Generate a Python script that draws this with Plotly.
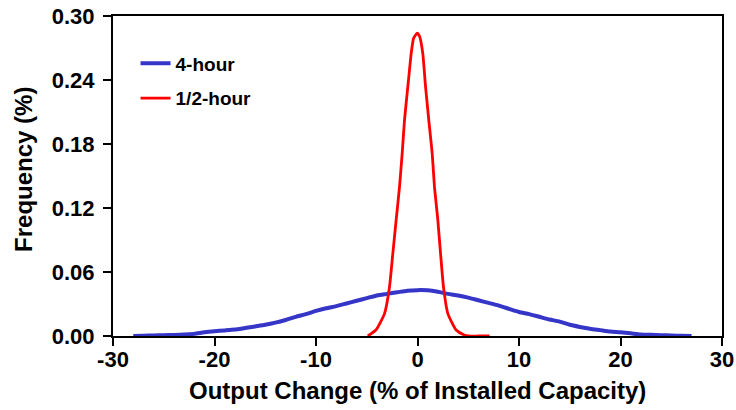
import plotly.graph_objects as go

# 4-hour distribution
blue_x = [-28, -27, -26, -25, -24, -23, -22, -21, -20, -19, -18, -17, -16, -15, -14, -13, -12, -11, -10,
          -9, -8, -7, -6, -5, -4, -3, -2, -1, 0, 1, 2, 3, 4, 5, 6, 7, 8, 9, 10, 11, 12, 13, 14,
          15, 16, 17, 18, 19, 20, 21, 22, 23, 24, 25, 26, 27]
blue_y = [0.0, 0.0003, 0.0005, 0.0008, 0.001, 0.0013, 0.002, 0.0035, 0.0045, 0.0052, 0.006, 0.0075,
          0.009, 0.0105, 0.0125, 0.015, 0.018, 0.0205, 0.0235, 0.026, 0.028, 0.0305, 0.033, 0.0355,
          0.038, 0.0395, 0.041, 0.0425, 0.043, 0.0428, 0.0415, 0.0395, 0.038, 0.036, 0.0335, 0.031,
          0.0285, 0.0255, 0.0225, 0.0205, 0.018, 0.0155, 0.0135, 0.0105, 0.0085, 0.0068, 0.0055,
          0.0042, 0.0035, 0.0025, 0.0015, 0.0011, 0.0008, 0.0004, 0.0002, 0.0]

# 1/2-hour distribution
red_x = [-4.9, -4.1, -3.25, -2.76, -2.43, -2.1, -1.77, -1.51, -1.28, -0.95, -0.62, -0.39, -0.03,
         0.2, 0.52, 0.79, 1.11, 1.45, 1.67, 2.0, 2.27, 2.56, 2.99, 3.81, 4.6, 5.0, 6.0, 7.1]
red_y = [0.0, 0.0056, 0.021, 0.046, 0.0775, 0.109, 0.140, 0.171, 0.2025, 0.234, 0.265, 0.279, 0.284,
         0.281, 0.265, 0.234, 0.2025, 0.171, 0.140, 0.109, 0.0775, 0.046, 0.021, 0.0056, 0.001, 0.0,
         0.0, 0.0]

x_ticks = [-30, -20, -10, 0, 10, 20, 30]
x_tick_labels = ["-30", "-20", "-10", "0", "10", "20", "30"]
y_ticks = [0.00, 0.06, 0.12, 0.18, 0.24, 0.30]
y_tick_labels = ["0.00", "0.06", "0.12", "0.18", "0.24", "0.30"]

x_title = "Output Change (% of Installed Capacity)"
y_title = "Frequency (%)"

FONT = "Liberation Sans, Arial, sans-serif"

fig = go.Figure()
fig.add_trace(go.Scatter(x=blue_x, y=blue_y, mode="lines", name="4-hour", legendgroup="a",
                         line=dict(color="#3535c8", width=4, shape="spline", smoothing=0.6)))
fig.add_trace(go.Scatter(x=red_x, y=red_y, mode="lines", name="1/2-hour", legendgroup="b",
                         line=dict(color="#ff0000", width=2.8, shape="spline", smoothing=0.5)))

axis_common = dict(showline=True, linecolor="black", linewidth=2, mirror=True,
                   ticks="outside", ticklen=8, tickwidth=1.5, tickcolor="black",
                   showgrid=False, zeroline=False, automargin=False,
                   ticklabeloverflow="allow",
                   tickfont=dict(family=FONT, size=22, color="black", weight="bold"))

title_font = dict(family=FONT, size=24, color="black", weight="bold")

fig.update_layout(
    width=736, height=410,
    margin=dict(l=113, r=14, t=16, b=74),
    paper_bgcolor="white", plot_bgcolor="white",
    xaxis=dict(range=[-30, 30], tickvals=x_ticks, ticktext=x_tick_labels,
               ticklabelstandoff=-5, **axis_common),
    yaxis=dict(range=[0, 0.30], tickvals=y_ticks, ticktext=y_tick_labels,
               ticklabelstandoff=4, **axis_common),
    legend=dict(x=0.037, y=0.911, xanchor="left", yanchor="top", bgcolor="rgba(0,0,0,0)",
                tracegroupgap=7,
                font=dict(family=FONT, size=19, color="black", weight="bold")),
    annotations=[
        dict(text=x_title, xref="paper", yref="paper", x=0.5, y=0, yshift=-54,
             xanchor="center", yanchor="middle", showarrow=False, font=title_font),
        dict(text=y_title, xref="paper", yref="paper", x=0, y=0.519, xshift=-89,
             xanchor="center", yanchor="middle", textangle=-90, showarrow=False,
             font=title_font),
    ],
)

fig.write_html("out.html", config={"displayModeBar": False},
               post_script="document.body.style.margin='0px';")
